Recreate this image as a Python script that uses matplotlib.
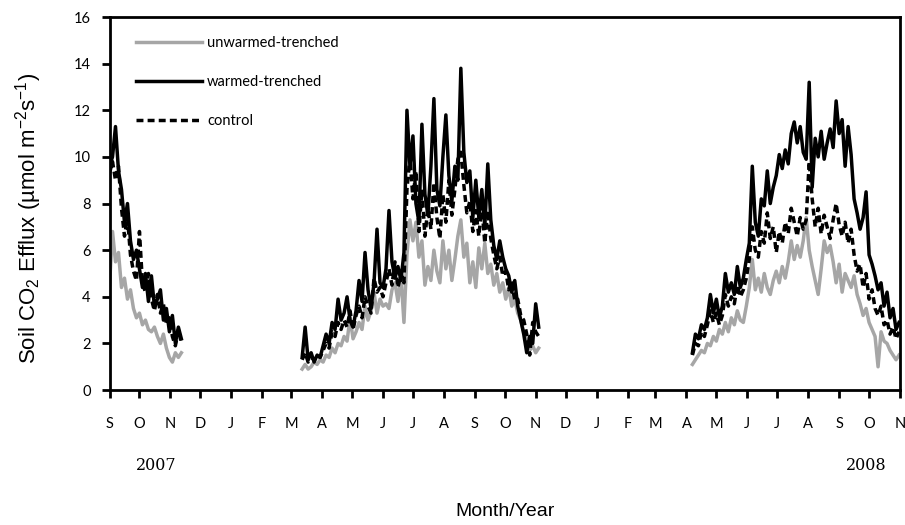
import matplotlib

matplotlib.use("Agg")
import matplotlib.pyplot as plt
import pandas as pd

plt.rcParams["mathtext.default"] = "regular"

# three measuring seasons, one value every 3 days
SEASON_STARTS = ["2007-09-01", "2008-03-12", "2009-04-07"]
SAMPLE_STEP = "3D"

unwarmed_2007 = [4.5, 6.8, 5.5, 5.9, 4.4, 4.8, 3.9, 4.3, 3.5, 3.1, 3.3, 2.8, 3.0, 2.6, 2.5,
                 2.7, 2.3, 2.0, 2.4, 1.8, 1.4, 1.2, 1.6, 1.4, 1.6]
warmed_2007 = [9.6, 10.0, 11.3, 9.4, 8.6, 7.2, 8.0, 6.4, 5.6, 6.0, 5.2, 4.4, 5.0, 3.8, 4.9,
               3.6, 3.9, 4.3, 3.0, 3.5, 2.5, 3.2, 2.0, 2.7, 2.2]
control_2007 = [9.3, 9.8, 9.0, 9.6, 7.8, 6.6, 7.4, 5.8, 5.1, 4.7, 6.8, 4.6, 4.2, 5.0, 3.9,
                3.4, 4.1, 3.3, 3.7, 2.8, 3.1, 2.3, 1.9, 2.6, 2.0]

unwarmed_2008 = [0.9, 1.1, 0.9, 1.0, 1.2, 1.1, 1.3, 1.2, 1.5, 1.4, 1.8, 1.6, 2.0, 1.9, 2.3,
                 2.1, 3.1, 2.2, 2.5, 2.9, 2.6, 3.6, 3.0, 3.4, 4.2, 3.3, 3.9, 3.6, 3.7, 3.5,
                 4.3, 4.6, 3.8, 4.9, 2.9, 5.8, 7.3, 6.4, 7.2, 5.7, 6.4, 4.5, 5.3, 4.7, 6.0,
                 5.1, 4.6, 6.4, 5.2, 6.0, 4.7, 5.6, 6.6, 7.3, 5.7, 6.3, 4.6, 5.5, 4.4, 6.1,
                 5.2, 6.3, 5.0, 5.4, 4.5, 5.0, 4.2, 4.6, 3.9, 4.4, 3.6, 3.9, 3.3, 3.0, 2.5,
                 2.2, 1.7, 1.9, 1.6, 1.8]
warmed_2008 = [1.4, 2.7, 1.3, 1.6, 1.2, 1.5, 1.4, 1.9, 2.4, 2.0, 2.9, 2.6, 3.9, 3.0, 3.3,
               4.0, 3.0, 2.7, 3.4, 4.7, 3.8, 5.9, 4.3, 3.5, 4.6, 6.9, 4.6, 4.4, 5.2, 7.7,
               5.5, 4.8, 5.3, 4.7, 5.9, 12.0, 9.6, 10.9, 8.0, 7.2, 11.4, 8.4, 7.5, 9.6, 12.5,
               8.6, 7.9, 10.0, 11.8, 9.2, 8.1, 9.6, 9.0, 13.8, 10.2, 8.9, 9.4, 7.4, 9.0, 7.4,
               8.6, 7.0, 9.7, 7.3, 6.2, 5.6, 6.4, 5.7, 5.2, 4.9, 4.2, 4.7, 3.6, 3.0, 2.4,
               1.6, 2.3, 2.0, 3.7, 2.7]
control_2008 = [1.3, 1.6, 1.2, 1.4, 1.3, 1.5, 1.4, 1.7, 2.0, 1.8, 2.5, 2.3, 2.9, 2.6, 3.0,
                2.7, 3.4, 2.6, 3.2, 3.6, 3.1, 4.0, 3.6, 3.3, 4.8, 4.2, 4.4, 4.0, 4.6, 5.2,
                4.5, 5.5, 4.4, 5.0, 4.6, 8.6, 10.0, 8.2, 9.4, 6.8, 8.6, 6.6, 7.8, 6.9, 8.9,
                7.4, 6.5, 8.4, 7.2, 9.0, 7.5, 8.6, 9.9, 10.2, 8.8, 7.6, 8.1, 6.8, 7.7, 6.6,
                7.9, 6.3, 7.7, 6.5, 5.8, 5.2, 5.7, 4.9, 5.1, 4.3, 4.7, 3.8, 3.9, 3.2, 3.0,
                2.4, 1.5, 2.9, 2.5, 2.3]

unwarmed_2009 = [1.1, 1.3, 1.5, 1.7, 1.6, 2.0, 1.9, 2.3, 2.1, 2.6, 2.4, 2.9, 2.5, 3.1, 2.8,
                 3.4, 3.0, 2.9, 3.6, 4.4, 5.6, 4.3, 4.8, 4.2, 5.0, 4.4, 4.1, 4.7, 5.1, 4.6,
                 5.3, 4.8, 5.5, 6.4, 5.6, 6.2, 5.7, 6.4, 7.4, 6.0, 5.3, 4.7, 4.1, 5.2, 6.4,
                 5.9, 6.2, 5.5, 4.6, 5.4, 4.2, 5.0, 4.7, 4.4, 4.9, 4.1, 3.7, 3.2, 3.5, 2.9,
                 2.6, 2.3, 1.0, 2.5, 2.1, 2.0, 1.7, 1.5, 1.3, 1.5]
warmed_2009 = [1.6, 2.4, 2.2, 2.8, 2.6, 3.1, 4.1, 3.3, 3.9, 3.1, 3.6, 5.0, 4.2, 4.6, 4.1,
               5.3, 4.4, 4.8, 5.6, 6.3, 9.6, 7.2, 6.6, 8.2, 7.9, 9.4, 8.0, 8.7, 9.2, 10.1,
               9.5, 10.3, 9.7, 11.0, 11.5, 10.6, 11.3, 10.2, 9.9, 13.2, 8.7, 10.8, 10.0, 11.1, 9.9,
               10.6, 11.2, 10.4, 12.4, 11.0, 11.6, 9.6, 11.3, 10.1, 8.2, 7.6, 6.9, 7.4, 8.5, 5.8,
               5.4, 4.9, 4.3, 4.6, 3.6, 4.2, 3.1, 3.5, 2.6, 2.9]
control_2009 = [1.5, 2.0, 1.9, 2.5, 2.3, 2.8, 3.4, 2.9, 3.3, 2.8, 3.2, 4.1, 3.6, 4.0, 3.7,
                4.5, 4.0, 4.3, 4.8, 5.6, 7.0, 6.0, 5.7, 6.8, 6.3, 7.6, 6.5, 7.0, 5.9, 6.8,
                6.3, 7.2, 6.7, 7.8, 7.2, 6.6, 7.4, 6.9, 7.3, 9.8, 8.2, 7.0, 7.8, 6.7, 7.5,
                7.0, 6.5, 7.3, 8.0, 7.1, 6.6, 7.2, 6.3, 6.9, 5.8, 5.1, 5.4, 4.4, 5.0, 3.9,
                4.3, 3.5, 3.2, 3.6, 2.8, 3.0, 2.4, 2.7, 2.2, 2.5]

MONTH_LABELS = ["S", "O", "N", "D", "J", "F", "M", "A", "M", "J", "J", "A", "S", "O",
                "N", "D", "J", "F", "M", "A", "M", "J", "J", "A", "S", "O", "N"]
YEAR_LABELS = ["2007", "2008"]
Y_TICKS = [0, 2, 4, 6, 8, 10, 12, 14, 16]

treatments = [
    ("unwarmed-trenched", [unwarmed_2007, unwarmed_2008, unwarmed_2009],
     dict(color="#a6a6a6", linewidth=2.5)),
    ("warmed-trenched", [warmed_2007, warmed_2008, warmed_2009],
     dict(color="black", linewidth=2.5)),
    ("control", [control_2007, control_2008, control_2009],
     dict(color="black", linewidth=2.5, dashes=(2.0, 1.2))),
]

tick_font = "Lato"

fig = plt.figure(figsize=(9.05, 5.25), dpi=100)
ax = fig.add_axes([0.121, 0.257, 0.8735, 0.7106])

for label, seasons, style in treatments:
    for i, (start, values) in enumerate(zip(SEASON_STARTS, seasons)):
        dates = pd.date_range(start, periods=len(values), freq=SAMPLE_STEP)
        ax.plot(dates, values, label=label if i == 0 else None, **style)

month_starts = pd.date_range("2007-09-01", "2009-11-01", freq="MS")
ax.set_xlim(month_starts[0], month_starts[-1])
ax.set_ylim(0, 16)
ax.set_xticks(month_starts, labels=MONTH_LABELS)
ax.set_yticks(Y_TICKS, labels=[str(t) for t in Y_TICKS])
ax.tick_params(axis="both", direction="out", length=5.5, width=2, labelsize=10.5)
ax.tick_params(axis="x", pad=14)
ax.tick_params(axis="y", pad=8)
for lab in ax.get_xticklabels() + ax.get_yticklabels():
    lab.set_fontfamily(tick_font)
for spine in ax.spines.values():
    spine.set_linewidth(2)

ax.set_ylabel("Soil CO$_2$ Efflux (\u00b5mol m$^{-2}$s$^{-1}$)",
              fontsize=16, family="Liberation Sans")
ax.yaxis.set_label_coords(-0.083, 0.46)

fig.text(0.173, 0.114, YEAR_LABELS[0], ha="center", va="center",
         fontsize=11.5, family="DejaVu Serif")
fig.text(0.957, 0.114, YEAR_LABELS[1], ha="center", va="center",
         fontsize=11.5, family="DejaVu Serif")
fig.text(0.558, 0.025, "Month/Year", ha="center", va="center",
         fontsize=14, family="Liberation Sans")

ax.legend(loc="upper left", bbox_to_anchor=(0.0175, 0.985), frameon=False,
          handlelength=4.5, labelspacing=1.72, handletextpad=0.35,
          prop={"family": tick_font, "size": 10.5})

fig.savefig("out.png", dpi=100)
